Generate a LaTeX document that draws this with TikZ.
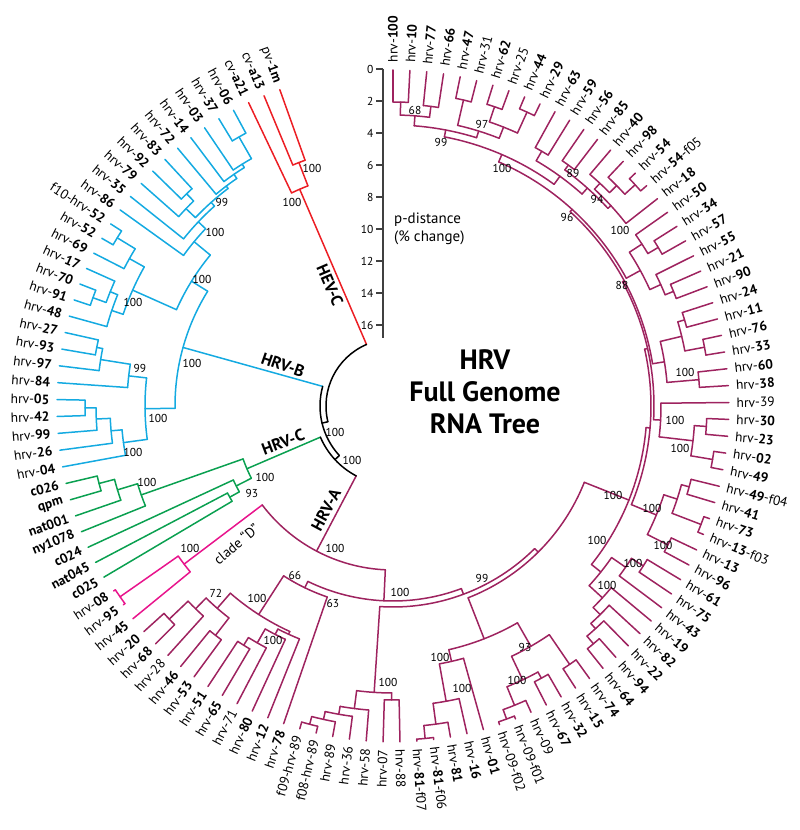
\documentclass[tikz,border=0pt]{standalone}
\usepackage{fontspec}
\setmainfont{PT Sans}
\definecolor{pur}{RGB}{158,35,95}
\definecolor{blu}{RGB}{20,170,225}
\definecolor{grn}{RGB}{10,160,80}
\definecolor{hevred}{RGB}{236,30,36}
\definecolor{pnk}{RGB}{232,20,140}
\tikzset{
  br/.style={line width=1.5pt,line cap=round},
  leaflab/.style={font=\fontsize{13.5}{14}\selectfont,inner sep=0.5pt},
  bs/.style={font=\fontsize{11.5}{12}\selectfont,inner sep=0pt},
  clab/.style={font=\bfseries\fontsize{16.5}{18}\selectfont,inner sep=0pt},
  dlab/.style={font=\fontsize{14}{16}\selectfont,inner sep=0pt},
}
\def\st{2.884}
\newcommand\hv[1]{hrv-\textbf{#1}}
\newcommand\lf[4]{%
  \expandafter\gdef\csname ix-#1\endcsname{#1}%
  \expandafter\gdef\csname r-#1\endcsname{#3}%
  \expandafter\gdef\csname col-#1\endcsname{#2}%
  \pgfmathsetmacro\thL{90-(#1-1)*\st}%
  \pgfmathsetmacro\rL{#3+7}%
  \ifdim\thL pt<-90pt
    \pgfmathsetmacro\rtL{\thL+180}%
    \node[leaflab,anchor=east,rotate=\rtL] (L#1) at (\thL:\rL pt) {#4};%
  \else
    \node[leaflab,anchor=west,rotate=\thL] (L#1) at (\thL:\rL pt) {#4};%
  \fi}
\newcommand\jn[5]{%
  \edef\ia{\csname ix-#4\endcsname}%
  \edef\ib{\csname ix-#5\endcsname}%
  \edef\rA{\csname r-#4\endcsname}%
  \edef\rB{\csname r-#5\endcsname}%
  \edef\cA{\csname col-#4\endcsname}%
  \edef\cB{\csname col-#5\endcsname}%
  \pgfmathsetmacro\angA{90-(\ia-1)*\st}%
  \pgfmathsetmacro\angB{90-(\ib-1)*\st}%
  \draw[br,color=\cA] (\angA:\rA pt) -- (\angA:#3pt);%
  \draw[br,color=\cB] (\angB:\rB pt) -- (\angB:#3pt);%
  \draw[br,color=#1] (\angA:#3pt) arc[start angle=\angA, end angle=\angB, radius=#3pt];%
  \pgfmathsetmacro\ip{(\ia+\ib)/2}%
  \expandafter\xdef\csname ix-#2\endcsname{\ip}%
  \expandafter\gdef\csname r-#2\endcsname{#3}%
  \expandafter\gdef\csname col-#2\endcsname{#1}%
  \coordinate (#2) at ({90-(\ip-1)*\st}:#3pt);}
\begin{document}
\begin{tikzpicture}[x=1pt,y=1pt]
\useasboundingbox (-393,-424) rectangle (407,406);
% ---------- leaves ----------
\lf{1}{pur}{336}{\hv{100}}
\lf{2}{pur}{336}{\hv{10}}
\lf{3}{pur}{336}{\hv{77}}
\lf{4}{pur}{336}{\hv{66}}
\lf{5}{pur}{336}{\hv{47}}
\lf{6}{pur}{336}{hrv-31}
\lf{7}{pur}{336}{\hv{62}}
\lf{8}{pur}{336}{hrv-25}
\lf{9}{pur}{336}{\hv{44}}
\lf{10}{pur}{336}{\hv{29}}
\lf{11}{pur}{336}{\hv{63}}
\lf{12}{pur}{336}{\hv{59}}
\lf{13}{pur}{336}{\hv{56}}
\lf{14}{pur}{336}{\hv{85}}
\lf{15}{pur}{336}{\hv{40}}
\lf{16}{pur}{336}{\hv{98}}
\lf{17}{pur}{336}{\hv{54}}
\lf{18}{pur}{336}{hrv-\textbf{54}-f05}
\lf{19}{pur}{336}{\hv{18}}
\lf{20}{pur}{336}{\hv{50}}
\lf{21}{pur}{336}{\hv{34}}
\lf{22}{pur}{336}{\hv{57}}
\lf{23}{pur}{336}{\hv{55}}
\lf{24}{pur}{336}{\hv{21}}
\lf{25}{pur}{336}{\hv{90}}
\lf{26}{pur}{336}{\hv{24}}
\lf{27}{pur}{336}{\hv{11}}
\lf{28}{pur}{336}{\hv{76}}
\lf{29}{pur}{336}{\hv{33}}
\lf{30}{pur}{336}{\hv{60}}
\lf{31}{pur}{336}{\hv{38}}
\lf{32}{pur}{336}{hrv-39}
\lf{33}{pur}{336}{\hv{30}}
\lf{34}{pur}{336}{\hv{23}}
\lf{35}{pur}{336}{\hv{02}}
\lf{36}{pur}{336}{\hv{49}}
\lf{37}{pur}{336}{hrv-\textbf{49}-f04}
\lf{38}{pur}{336}{\hv{41}}
\lf{39}{pur}{336}{\hv{73}}
\lf{40}{pur}{336}{hrv-\textbf{13}-f03}
\lf{41}{pur}{336}{\hv{13}}
\lf{42}{pur}{336}{\hv{96}}
\lf{43}{pur}{336}{\hv{61}}
\lf{44}{pur}{336}{\hv{75}}
\lf{45}{pur}{336}{\hv{43}}
\lf{46}{pur}{336}{\hv{19}}
\lf{47}{pur}{336}{\hv{82}}
\lf{48}{pur}{336}{\hv{22}}
\lf{49}{pur}{336}{\hv{94}}
\lf{50}{pur}{336}{\hv{64}}
\lf{51}{pur}{336}{\hv{74}}
\lf{52}{pur}{336}{\hv{15}}
\lf{53}{pur}{336}{\hv{32}}
\lf{54}{pur}{336}{\hv{67}}
\lf{55}{pur}{336}{hrv-09}
\lf{56}{pur}{336}{hrv-09-f01}
\lf{57}{pur}{336}{hrv-09-f02}
\lf{58}{pur}{336}{\hv{01}}
\lf{59}{pur}{336}{\hv{16}}
\lf{60}{pur}{336}{\hv{81}}
\lf{61}{pur}{336}{hrv-\textbf{81}-f06}
\lf{62}{pur}{336}{hrv-\textbf{81}-f07}
\lf{63}{pur}{336}{hrv-88}
\lf{64}{pur}{336}{hrv-07}
\lf{65}{pur}{336}{hrv-58}
\lf{66}{pur}{336}{hrv-36}
\lf{67}{pur}{336}{hrv-89}
\lf{68}{pur}{336}{f08-hrv-89}
\lf{69}{pur}{336}{f09-hrv-89}
\lf{70}{pur}{336}{\hv{78}}
\lf{71}{pur}{336}{\hv{12}}
\lf{72}{pur}{336}{\hv{80}}
\lf{73}{pur}{336}{hrv-71}
\lf{74}{pur}{336}{\hv{65}}
\lf{75}{pur}{336}{\hv{51}}
\lf{76}{pur}{336}{\hv{53}}
\lf{77}{pur}{336}{\hv{46}}
\lf{78}{pur}{336}{hrv-28}
\lf{79}{pur}{336}{\hv{68}}
\lf{80}{pur}{336}{\hv{20}}
\lf{81}{pnk}{336}{\hv{45}}
\lf{82}{pnk}{335}{\hv{95}}
\lf{83}{pnk}{335}{\hv{08}}
\lf{84}{grn}{336}{\textbf{c025}}
\lf{85}{grn}{336}{\textbf{nat045}}
\lf{86}{grn}{336}{\textbf{c024}}
\lf{87}{grn}{336}{\textbf{ny1078}}
\lf{88}{grn}{336}{\textbf{nat001}}
\lf{89}{grn}{336}{\textbf{qpm}}
\lf{90}{grn}{336}{\textbf{c026}}
\lf{91}{blu}{336}{\hv{04}}
\lf{92}{blu}{336}{\hv{26}}
\lf{93}{blu}{336}{\hv{99}}
\lf{94}{blu}{336}{\hv{42}}
\lf{95}{blu}{336}{\hv{05}}
\lf{96}{blu}{336}{\hv{84}}
\lf{97}{blu}{336}{\hv{97}}
\lf{98}{blu}{336}{\hv{93}}
\lf{99}{blu}{336}{\hv{27}}
\lf{100}{blu}{336}{\hv{48}}
\lf{101}{blu}{336}{\hv{91}}
\lf{102}{blu}{336}{\hv{70}}
\lf{103}{blu}{336}{\hv{17}}
\lf{104}{blu}{336}{\hv{69}}
\lf{105}{blu}{336}{\hv{52}}
\lf{106}{blu}{336}{f10-hrv-\textbf{52}}
\lf{107}{blu}{336}{\hv{86}}
\lf{108}{blu}{336}{\hv{35}}
\lf{109}{blu}{336}{\hv{79}}
\lf{110}{blu}{336}{\hv{92}}
\lf{111}{blu}{336}{\hv{83}}
\lf{112}{blu}{336}{\hv{72}}
\lf{113}{blu}{336}{\hv{14}}
\lf{114}{blu}{336}{\hv{03}}
\lf{115}{blu}{336}{\hv{37}}
\lf{116}{blu}{336}{\hv{06}}
\lf{117}{hevred}{336}{cv-\textbf{a21}}
\lf{118}{hevred}{336}{cv-\textbf{a13}}
\lf{119}{hevred}{336}{pv-\textbf{1m}}
% ---------- HEV-C ----------
\jn{hevred}{h1}{261}{118}{119}
\jn{hevred}{hev}{236}{117}{h1}
% ---------- HRV-B ----------
\jn{blu}{b1}{308}{94}{95}
\jn{blu}{b2}{297}{93}{b1}
\jn{blu}{b3}{283}{92}{b2}
\jn{blu}{b4}{272}{91}{b3}
\jn{blu}{b5a}{302}{98}{99}
\jn{blu}{b5}{296}{97}{b5a}
\jn{blu}{b6}{266}{96}{b5}
\jn{blu}{b7}{248}{b4}{b6}
\jn{blu}{b8}{323}{105}{106}
\jn{blu}{b9}{302}{104}{b8}
\jn{blu}{b11}{319}{101}{102}
\jn{blu}{b10}{305}{b11}{103}
\jn{blu}{b12}{297}{100}{b10}
\jn{blu}{b13}{285}{b12}{b9}
\jn{blu}{u1}{310}{115}{116}
\jn{blu}{u2}{285}{114}{u1}
\jn{blu}{u3}{281}{113}{u2}
\jn{blu}{u4}{276}{112}{u3}
\jn{blu}{u5}{296}{110}{111}
\jn{blu}{u6}{286}{109}{u5}
\jn{blu}{u7}{273}{u6}{u4}
\jn{blu}{u8}{268}{108}{u7}
\jn{blu}{u9}{258}{107}{u8}
\jn{blu}{b14}{237}{b13}{u9}
\jn{blu}{B}{218}{b7}{b14}
% ---------- HRV-C ----------
\jn{grn}{c1}{304}{89}{90}
\jn{grn}{c2}{288}{88}{c1}
\jn{grn}{c3}{267}{87}{c2}
\jn{grn}{c6}{187}{84}{85}
\jn{grn}{c5}{176}{c6}{86}
\jn{grn}{C}{159}{c5}{c3}
% ---------- clade D ----------
\jn{pnk}{d1}{333}{82}{83}
\jn{pnk}{D}{262}{81}{d1}
% ---------- HRV-A ----------
\jn{pur}{N1}{304}{1}{2}
\jn{pur}{N2}{302}{3}{4}
\jn{pur}{N3}{291}{N1}{N2}
\jn{pur}{N5}{314}{5}{6}
\jn{pur}{N6}{316}{7}{8}
\jn{pur}{N8}{323}{9}{10}
\jn{pur}{N7}{300}{N6}{N8}
\jn{pur}{N97}{288}{N5}{N7}
\jn{pur}{N99}{281}{N3}{N97}
\jn{pur}{Q1}{295}{11}{12}
\jn{pur}{Q2}{298}{13}{14}
\jn{pur}{Q3a}{328}{17}{18}
\jn{pur}{Q3b}{314}{16}{Q3a}
\jn{pur}{Q3c}{304}{15}{Q3b}
\jn{pur}{Q3d}{296}{Q3c}{19}
\jn{pur}{Q4}{292}{Q2}{Q3d}
\jn{pur}{Q5}{284}{Q1}{Q4}
\jn{pur}{N100}{274}{N99}{Q5}
\jn{pur}{W0}{309}{21}{22}
\jn{pur}{W1}{297}{20}{W0}
\jn{pur}{W2}{303}{24}{25}
\jn{pur}{W3}{294}{23}{W2}
\jn{pur}{W4}{282}{W1}{W3}
\jn{pur}{N96}{266}{N100}{W4}
\jn{pur}{W5}{304}{26}{27}
\jn{pur}{W6}{317}{28}{29}
\jn{pur}{W7}{297}{W5}{W6}
\jn{pur}{W9}{307}{30}{31}
\jn{pur}{W10}{275}{W7}{W9}
\jn{pur}{N88}{263}{N96}{W10}
\jn{pur}{X1}{314}{33}{34}
\jn{pur}{X2}{324}{35}{36}
\jn{pur}{X3}{302}{X1}{X2}
\jn{pur}{X4}{268}{32}{X3}
\jn{pur}{X5}{261}{N88}{X4}
\jn{pur}{U1}{307}{37}{38}
\jn{pur}{U2}{330}{39}{40}
\jn{pur}{U3}{299}{U1}{U2}
\jn{pur}{U4}{308}{41}{42}
\jn{pur}{U5}{285}{U3}{U4}
\jn{pur}{Uc}{258}{X5}{U5}
\jn{pur}{V1}{297}{43}{44}
\jn{pur}{V2}{283}{V1}{45}
\jn{pur}{T1}{311}{49}{50}
\jn{pur}{T2}{301}{48}{T1}
\jn{pur}{T3}{294}{47}{T2}
\jn{pur}{T4}{284}{46}{T3}
\jn{pur}{L1}{266}{V2}{T4}
\jn{pur}{P}{254}{Uc}{L1}
\jn{pur}{S1}{333}{56}{57}
\jn{pur}{S2}{323}{55}{S1}
\jn{pur}{S3}{310}{53}{54}
\jn{pur}{S4}{303}{S3}{S2}
\jn{pur}{S5}{313}{51}{52}
\jn{pur}{S6}{277}{S5}{S4}
\jn{pur}{R1}{334}{61}{62}
\jn{pur}{R2}{321}{60}{R1}
\jn{pur}{R3}{300}{59}{R2}
\jn{pur}{R4}{262}{58}{R3}
\jn{pur}{K}{250}{S6}{R4}
\jn{pur}{Zr}{206}{P}{K}
\jn{pur}{g1}{329}{68}{69}
\jn{pur}{g2}{321}{67}{g1}
\jn{pur}{g3}{313}{66}{g2}
\jn{pur}{g4}{305}{65}{g3}
\jn{pur}{g5}{294}{63}{64}
\jn{pur}{G}{287}{g5}{g4}
\jn{pur}{A99}{201}{Zr}{G}
\jn{pur}{a1}{309}{79}{80}
\jn{pur}{a2}{283}{78}{a1}
\jn{pur}{a4}{290}{76}{77}
\jn{pur}{a3}{268}{a4}{a2}
\jn{pur}{a5}{282}{74}{75}
\jn{pur}{a6}{273}{73}{a5}
\jn{pur}{a7}{257}{72}{a6}
\jn{pur}{a8}{251}{71}{a7}
\jn{pur}{A100a}{248}{a8}{a3}
\jn{pur}{A66}{202}{70}{A100a}
\jn{pur}{A1}{195}{A99}{A66}
\jn{pur}{A0}{164}{A1}{D}
% ---------- root ----------
\jn{black}{Y}{79}{C}{A0}
\jn{black}{X}{73}{B}{Y}
\jn{black}{Rt}{67}{hev}{X}
% ---------- bootstrap values ----------
\node[bs] (s1) at (22,296) {68};
\node[bs] (s2) at (48,264) {99};
\node[bs] (s3) at (89,282) {97};
\node[bs] (s4) at (109,238) {100};
\node[bs] (s5) at (180,233) {89};
\node[bs] (s6) at (204,207) {94};
\node[bs] (s7) at (174,189) {96};
\node[bs] (s8) at (227,176) {100};
\node[bs] (s9) at (229,121) {88};
\node[bs] (s10) at (292,34) {100};
\node[bs] (s11) at (282,-14) {100};
\node[bs] (s12) at (287,-42) {100};
\node[bs] (s13) at (220,-89) {100};
\node[bs] (s14) at (259,-102) {100};
\node[bs] (s15) at (204,-134) {100};
\node[bs] (s16) at (270,-139) {100};
\node[bs] (s17) at (240,-157) {100};
\node[bs] (s18) at (214,-179) {100};
\node[bs] (s19) at (89,-172) {99};
\node[bs] (s20) at (132,-241) {93};
\node[bs] (s21) at (47,-251) {100};
\node[bs] (s22) at (124,-274) {100};
\node[bs] (s23) at (69,-282) {100};
\node[bs] (s24) at (7,-186) {100};
\node[bs] (s25) at (-5,-276) {100};
\node[bs] (s26) at (-98,-169) {66};
\node[bs] (s27) at (-177,-187) {72};
\node[bs] (s28) at (-136,-192) {100};
\node[bs] (s29) at (-120,-234) {100};
\node[bs] (s30) at (-60,-197) {63};
\node[bs] (s31) at (-203,-142) {100};
\node[bs] (s32) at (-246,-76) {100};
\node[bs] (s33) at (-128,-71) {100};
\node[bs] (s34) at (-141,-87) {93};
\node[bs] (s35) at (-260,104) {100};
\node[bs] (s36) at (-201,43) {100};
\node[bs] (s37) at (-253,38) {99};
\node[bs] (s38) at (-235,-12) {100};
\node[bs] (s39) at (-260,-46) {100};
\node[bs] (s40) at (-171,204) {99};
\node[bs] (s41) at (-178,174) {100};
\node[bs] (s42) at (-191,127) {100};
\node[bs] (s43) at (-81,238) {100};
\node[bs] (s44) at (-101,204) {100};
\node[bs] (s45) at (-58,-26) {100};
\node[bs] (s46) at (-41,-54) {100};
\node[bs] (s47) at (-58,-142) {100};
% ---------- clade names ----------
\node[clab,rotate=-66.7] (nHEVC) at (-63,121) {HEV-C};
\node[clab,rotate=-19.3] (nHRVB) at (-110,41) {HRV-B};
\node[clab,rotate=20.4] (nHRVC) at (-110,-36) {HRV-C};
\node[clab,rotate=61.8] (nHRVA) at (-67,-104) {HRV-A};
\node[dlab,rotate=40] (nD) at (-157,-138) {clade “D”};
% ---------- title ----------
\node[font=\bfseries\fontsize{28}{32}\selectfont,align=center] (title) at (92,14) {HRV\\Full Genome\\RNA Tree};
% ---------- scale ----------
\node[anchor=west,align=left,font=\fontsize{15}{18}\selectfont,inner sep=0pt] (pd) at (1,177.5) {p-distance\\(\% change)};
\coordinate (sTop) at (-10,337);
\coordinate (sBot) at (-10,68);
\draw[line width=1.1pt,black!75] (sTop) -- (sBot);
\foreach \k in {0,...,8}{
  \pgfmathtruncatemacro\val{2*\k}
  \draw[line width=1.1pt,black!75] (-10,337-32*\k) -- (-17,337-32*\k)
     node[left,inner sep=2pt,font=\fontsize{11.5}{12}\selectfont,text=black] {\val};
}
\end{tikzpicture}
\end{document}
